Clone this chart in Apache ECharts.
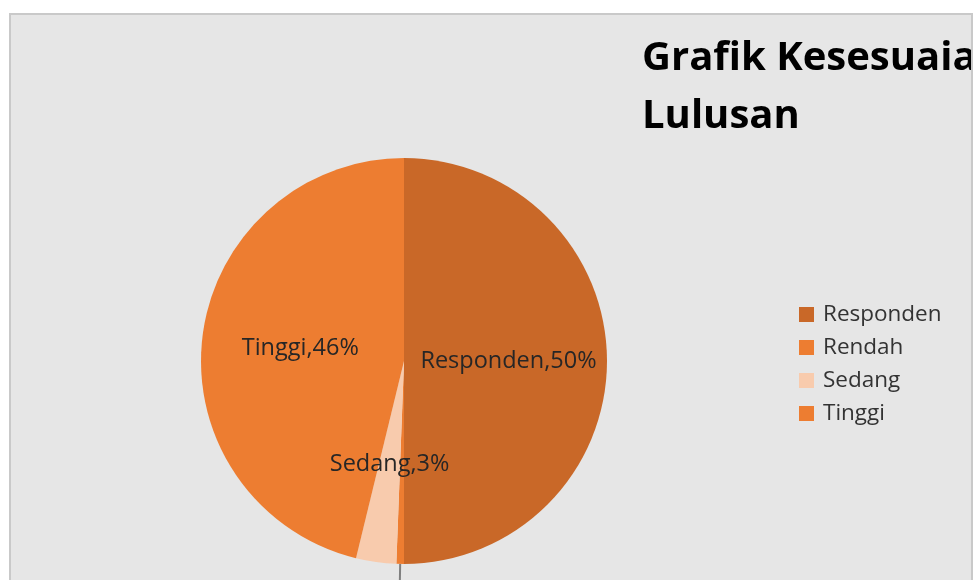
<!DOCTYPE html>
<html>
<head>
<meta charset="utf-8">
<script src="https://cdn.jsdelivr.net/npm/echarts@6/dist/echarts.min.js"></script>
<style>
  html, body { margin: 0; padding: 0; width: 975px; height: 580px; overflow: hidden; background: #ffffff; }
  #panel {
    position: absolute; left: 9px; top: 13px; width: 960px; height: 700px;
    border: 2px solid #c9c9c9; background: #e6e6e6; overflow: hidden;
  }
  #chart { width: 960px; height: 700px; }
</style>
</head>
<body>
<div id="panel"><div id="chart"></div></div>
<script>
// values (share of the whole pie)
const categories = ["Responden", "Rendah", "Sedang", "Tinggi"];
const values = [50, 0.6, 3.2, 46.2];
const colors = ["#c96828", "#ed7d31", "#f8cbad", "#ed7d31"];
const titleText = "Grafik Kesesuaian\nLulusan";

const chart = echarts.init(document.getElementById("chart"));

const seriesData = categories.map((name, i) => {
  const item = {
    name,
    value: values[i],
    itemStyle: { color: colors[i] },
  };
  if (name === "Rendah") {
    // label sits below the visible area, only its leader line shows
    item.label = { position: "outside" };
    item.labelLine = { show: true, length: 60, length2: 20 };
  }
  return item;
});

chart.setOption({
  backgroundColor: "#e6e6e6",
  animation: false,
  title: {
    text: titleText,
    left: 626,
    top: 10,
    textStyle: {
      fontFamily: "Open Sans",
      fontWeight: "bold",
      fontSize: 40,
      lineHeight: 58,
      color: "#000000",
    },
  },
  legend: {
    orient: "vertical",
    left: 783,
    top: 283,
    itemWidth: 15,
    itemHeight: 15,
    itemGap: 10,
    icon: "rect",
    data: categories,
    textStyle: {
      fontFamily: "Open Sans",
      fontSize: 22.5,
      lineHeight: 22,
      color: "#333333",
      padding: [0, 0, 0, 4],
    },
  },
  series: [
    {
      type: "pie",
      center: [393, 346],
      radius: 203,
      startAngle: 90,
      clockwise: true,
      avoidLabelOverlap: false,
      emphasis: { disabled: true },
      label: {
        show: true,
        position: "inside",
        fontFamily: "Open Sans",
        fontSize: 23.5,
        color: "#262626",
        formatter: (p) => p.name + "," + Math.round(p.percent) + "%",
      },
      labelLine: {
        lineStyle: { color: "#7f7f7f", width: 2 },
      },
      data: seriesData,
    },
  ],
});
</script>
</body>
</html>
